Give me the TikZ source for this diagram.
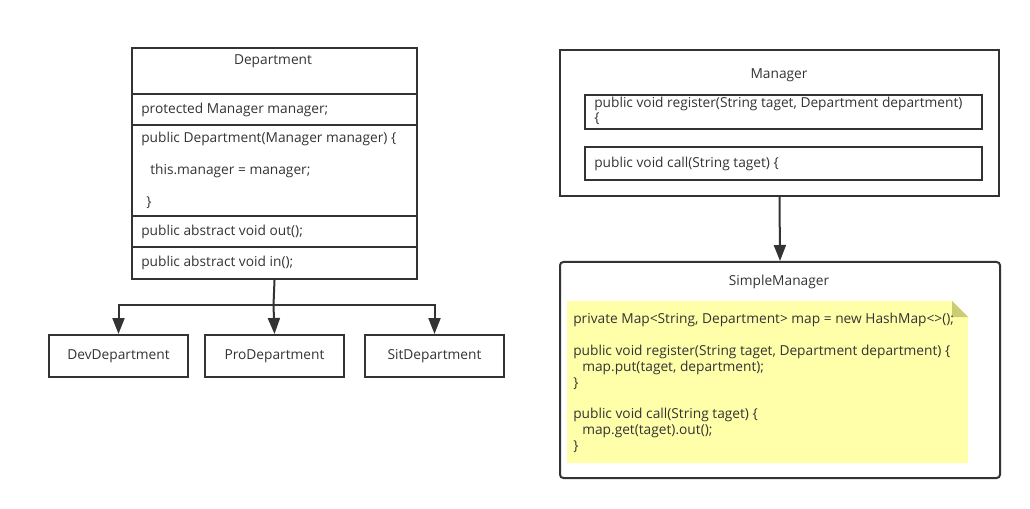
\documentclass[tikz,border=0pt]{standalone}
\usepackage{fontspec}
\setmainfont{Open Sans}
\usetikzlibrary{arrows.meta}
\definecolor{ink}{HTML}{333333}
\definecolor{notefill}{HTML}{FFFFAA}
\definecolor{notefold}{HTML}{CCCC77}
\tikzset{
  box/.style={draw=ink, line width=1.5pt, rectangle, inner sep=0pt, anchor=north west},
  txt/.style={anchor=west, inner sep=0pt, text=ink, font=\fontsize{10.3}{12}\selectfont},
  ctxt/.style={inner sep=0pt, text=ink, font=\fontsize{10.3}{12}\selectfont},
  arr/.style={draw=ink, line width=1.5pt, -{Triangle[length=12pt,width=9pt]}}
}
\begin{document}
\begin{tikzpicture}[x=0.75pt,y=-0.75pt]
\useasboundingbox (0,0) rectangle (1030,509);
%Department
\node[box, minimum width=213.75pt, minimum height=173.25pt] (dept) at (131,47) {};
\draw[ink, line width=1.5pt] (131,94) -- (416,94);
\draw[ink, line width=1.5pt] (131,125) -- (416,125);
\draw[ink, line width=1.5pt] (131,216) -- (416,216);
\draw[ink, line width=1.5pt] (131,247) -- (416,247);
\node[ctxt] (depttitle) at (273,61) {Department};
\node[txt] (deptfield) at (141,110) {protected Manager manager;};
\node[txt] (deptctor) at (141,139) {public Department(Manager manager) \{};
\node[txt] (deptbody) at (150,171) {this.manager = manager;};
\node[txt] (deptend) at (146,203) {\}};
\node[txt] (deptout) at (141,232) {public abstract void out();};
\node[txt] (deptin) at (141,263) {public abstract void in();};
%subclasses
\node[box, minimum width=104.25pt, minimum height=31.5pt] (dev) at (48,334) {};
\node[ctxt] at (dev.center) {DevDepartment};
\node[box, minimum width=104.25pt, minimum height=31.5pt] (pro) at (204,334) {};
\node[ctxt] at (pro.center) {ProDepartment};
\node[box, minimum width=104.25pt, minimum height=31.5pt] (sit) at (364,334) {};
\node[ctxt] at (sit.center) {SitDepartment};
\coordinate (split) at (273.5,305);
\draw[ink, line width=1.5pt] (dept.south) -- (split);
\draw[arr] (split) -| (dev.north);
\draw[arr] (split) -- (pro.north);
\draw[arr] (split) -| (sit.north);
%Manager
\node[box, minimum width=329.25pt, minimum height=109.5pt] (mgr) at (559,49) {};
\node[ctxt] (mgrtitle) at (779,75) {Manager};
\node[box, minimum width=297.75pt, minimum height=25.5pt] (mgrreg) at (584,94) {};
\node[txt] at (594,104) {public void register(String taget, Department department)};
\node[txt] at (594,119) {\{};
\node[box, minimum width=297.75pt, minimum height=24.75pt] (mgrcall) at (584,146) {};
\node[txt] at (594,164) {public void call(String taget) \{};
%SimpleManager
\node[box, rounded corners=2.5pt, minimum width=330pt, minimum height=162pt] (simple) at (559,261) {};
\draw[arr] (mgr.south) -- (simple.north);
\node[ctxt] (simpletitle) at (779,282) {SimpleManager};
\fill[notefill] (567,301) -- (952,301) -- (968,317) -- (968,463) -- (567,463) -- cycle;
\fill[notefold] (952,301) -- (952,317) -- (968,317) -- cycle;
\node[txt] at (573,320) {private Map<String, Department> map = new HashMap<>();};
\node[txt] at (573,352) {public void register(String taget, Department department) \{};
\node[txt] at (582,368) {map.put(taget, department);};
\node[txt] at (573,384) {\}};
\node[txt] at (573,415) {public void call(String taget) \{};
\node[txt] at (582,431) {map.get(taget).out();};
\node[txt] at (573,447) {\}};
\end{tikzpicture}
\end{document}
